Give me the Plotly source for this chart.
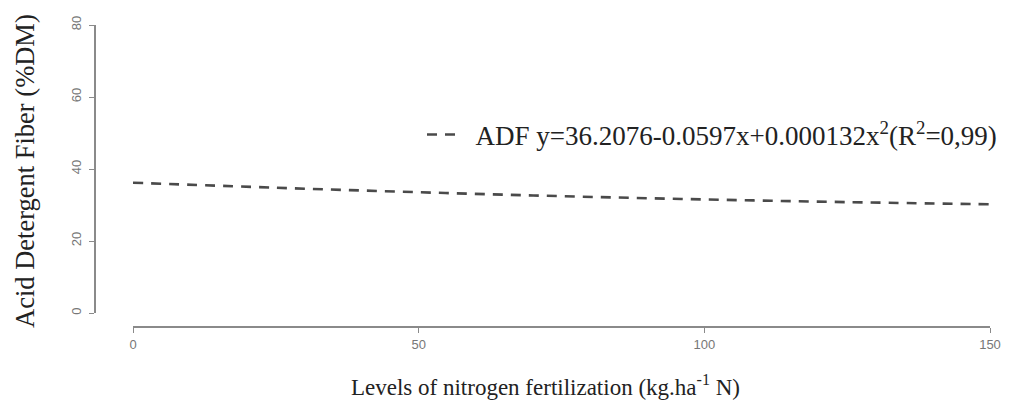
import plotly.graph_objects as go

# Values
n_levels = [0, 25, 50, 75, 100, 125, 150]
adf_values = [36.2, 34.8, 33.55, 32.45, 31.55, 30.8, 30.2]
x_ticks = [0, 50, 100, 150]
y_ticks = [0, 20, 40, 60, 80]
legend_label = "\u00a0\u00a0ADF y=36.2076-0.0597x+0.000132x<sup>2</sup>(R<sup>2</sup>=0,99)"
x_title = "Levels of nitrogen fertilization (kg.ha<sup>-1</sup> N)"
y_title = "Acid Detergent Fiber (%DM)"

W, H = 1009, 401
OFF = 8  # page body margin offset
serif = "Liberation Serif, Times New Roman, serif"
sans = "Liberation Sans, Arial, sans-serif"


def px_x(p):
    return (p - OFF) / W


def px_y(p):
    return 1 - (p - OFF) / H


fig = go.Figure()
fig.add_trace(go.Scatter(
    x=n_levels, y=adf_values, mode="lines", name=legend_label,
    line=dict(color="#4a4a4a", width=2.6, dash="10px,8px", shape="spline"),
    showlegend=True,
))

fig.update_layout(
    width=W, height=H,
    margin=dict(l=0, r=0, t=0, b=0),
    paper_bgcolor="white", plot_bgcolor="white",
    showlegend=True,
    legend=dict(x=px_x(422), y=px_y(135), xanchor="left", yanchor="middle",
                font=dict(family=serif, size=27, color="#222222"),
                bgcolor="rgba(0,0,0,0)"),
    xaxis=dict(
        domain=[px_x(133), px_x(990)], range=[0, 150],
        anchor="free", position=px_y(327),
        showline=True, linecolor="#8a8a8a", linewidth=1.5,
        ticks="outside", ticklen=5, tickcolor="#8a8a8a",
        tickvals=x_ticks, showgrid=False, zeroline=False,
        ticklabelstandoff=1,
        tickfont=dict(family=sans, size=13, color="#777777"),
        automargin=False,
    ),
    yaxis=dict(
        domain=[px_y(313), px_y(25)], range=[0, 80],
        anchor="free", position=px_x(95),
        showline=True, linecolor="#8a8a8a", linewidth=1.5,
        ticks="outside", ticklen=5, tickcolor="#8a8a8a",
        tickvals=y_ticks, tickangle=-90, showgrid=False, zeroline=False,
        ticklabelstandoff=3,
        tickfont=dict(family=sans, size=13, color="#777777"),
        automargin=False,
    ),
    annotations=[
        dict(text=x_title, xref="paper", yref="paper", x=px_x(545), y=px_y(385),
             xanchor="center", yanchor="middle", showarrow=False,
             font=dict(family=serif, size=23, color="#222222")),
        dict(text=y_title, xref="paper", yref="paper", x=px_x(25), y=px_y(171),
             xanchor="center", yanchor="middle", showarrow=False, textangle=-90,
             font=dict(family=serif, size=26.5, color="#222222")),
    ],
)

fig.write_html("out.html")
